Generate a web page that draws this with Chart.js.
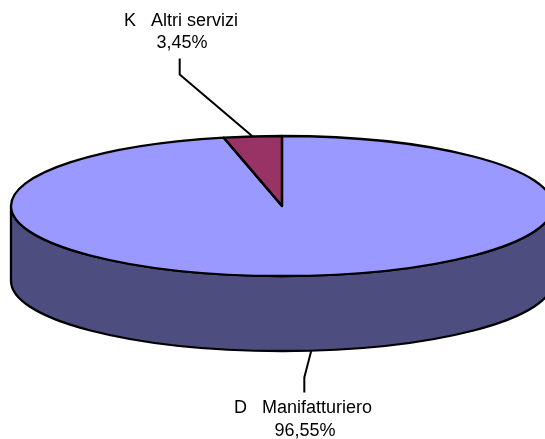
<!DOCTYPE html>
<html>
<head>
<meta charset="utf-8">
<style>html,body{margin:0;padding:0;background:#fff;overflow:hidden}canvas{display:block}</style>
<script src="https://cdn.jsdelivr.net/npm/chart.js@4"></script>
</head>
<body>
<canvas id="c" width="545" height="439"></canvas>
<script>
const categories = ["D   Manifatturiero", "K   Altri servizi"];
const shares = [96.55, 3.45];
const shareLabels = ["96,55%", "3,45%"];
const topColors = ["#9999FF", "#993366"];
const sideColor = "#4D4D80";

const squash = 70 / 271, depth = 75, font = '18px "Liberation Sans", Arial, sans-serif';

// elbow offsets from the rim anchor, and label baselines
const leaders = [
  { dir: 1, elbow: [-7, 27], end: [-7, 42], nameX: 303, nameY: 413, shareX: 305, shareY: 436 },
  { dir: -1, elbow: [-73, -62], end: [-73, -78], nameX: 181, nameY: 26, shareX: 182, shareY: 48 }
];

const pie3d = {
  id: "pie3d",
  beforeDatasetsDraw(chart) {
    const ctx = chart.ctx, arcs = chart.getDatasetMeta(0).data;
    const { x, y, outerRadius: R } = arcs[0], ry = R * squash;
    ctx.save();
    ctx.beginPath();
    ctx.ellipse(x, y + depth, R, ry, 0, 0, Math.PI);
    ctx.lineTo(x - R, y);
    ctx.ellipse(x, y, R, ry, 0, Math.PI, 0, true);
    ctx.closePath();
    ctx.fillStyle = sideColor;
    ctx.fill();
    ctx.lineWidth = 2.3;
    ctx.lineJoin = "round";
    ctx.strokeStyle = "#000";
    ctx.stroke();
    ctx.restore();
    ctx.save();
    ctx.translate(0, y);
    ctx.scale(1, squash);
    ctx.translate(0, -y);
  },
  afterDatasetsDraw(chart) {
    const ctx = chart.ctx, arcs = chart.getDatasetMeta(0).data;
    ctx.restore();
    const { x, y, outerRadius: R } = arcs[0], ry = R * squash;
    ctx.save();
    ctx.lineWidth = 2.3;
    ctx.lineJoin = "round";
    ctx.strokeStyle = "#000";
    arcs.forEach(a => {
      ctx.beginPath();
      ctx.moveTo(x, y);
      ctx.ellipse(x, y, R, ry, 0, a.startAngle, a.endAngle);
      ctx.closePath();
      ctx.stroke();
    });
    ctx.font = font;
    ctx.fillStyle = "#000";
    ctx.textAlign = "center";
    ctx.textBaseline = "alphabetic";
    arcs.forEach((a, i) => {
      const mid = (a.startAngle + a.endAngle) / 2, l = leaders[i];
      const ax = x + R * Math.cos(mid);
      const ay = y + ry * Math.sin(mid) + (l.dir > 0 ? depth : 0);
      ctx.beginPath();
      ctx.moveTo(ax, ay);
      ctx.lineTo(ax + l.elbow[0], ay + l.elbow[1]);
      ctx.lineTo(ax + l.end[0], ay + l.end[1]);
      ctx.lineWidth = 2;
      ctx.stroke();
      ctx.fillText(chart.data.labels[i], l.nameX, l.nameY);
      ctx.fillText(shareLabels[i], l.shareX, l.shareY);
    });
    ctx.restore();
  }
};

new Chart(document.getElementById("c"), {
  type: "pie",
  data: {
    labels: categories,
    datasets: [{ data: shares, backgroundColor: topColors, borderWidth: 0, clip: false }]
  },
  options: {
    responsive: false,
    animation: false,
    radius: 271,
    layout: { padding: { left: 19, bottom: 27 } },
    plugins: { legend: { display: false }, tooltip: { enabled: false } }
  },
  plugins: [pie3d]
});
</script>
</body>
</html>
